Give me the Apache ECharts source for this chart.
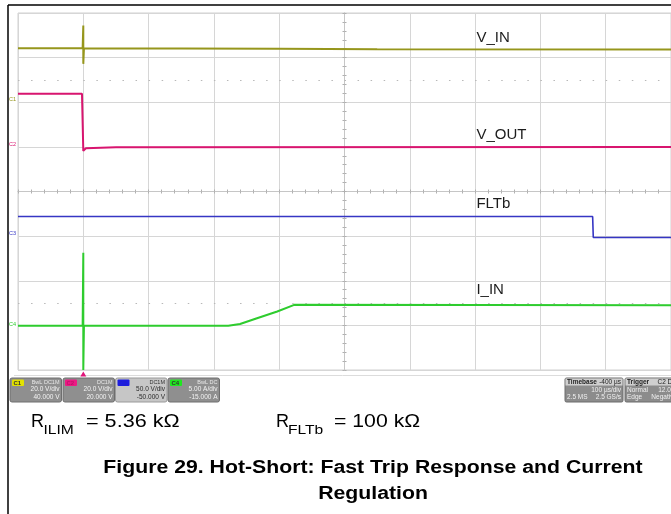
<!DOCTYPE html>
<html>
<head>
<meta charset="utf-8">
<script src="https://cdn.jsdelivr.net/npm/echarts@6/dist/echarts.min.js"></script>
<style>
html,body{margin:0;padding:0;background:#fff;}
#c{width:671px;height:514px;}
</style>
</head>
<body>
<div id="c"></div>
<script>
// Screen coordinates in scope divisions (x: -5..5 = 10 div @ 100 us/div, y: -4..4 = 8 div)
const vinT  = [-5, -4.01, -4.0, -4.0, -3.99, -1.0, 0.5, 5];
const vinV  = [3.21, 3.21, 3.72, 2.86, 3.21, 3.20, 3.185, 3.18];
const voutT = [-5, -4.02, -4.0, -3.96, -3.5, 5];
const voutV = [2.19, 2.19, 0.91, 0.97, 0.99, 1.00];
const fltT  = [-5, 3.80, 3.81, 5];
const fltV  = [-0.56, -0.56, -1.03, -1.03];
const iinT  = [-5, -4.01, -4.0, -4.0, -3.99, -1.78, -1.60, -1.34, -1.03, -0.77, 5];
const iinV  = [-3.01, -3.01, -1.37, -4.0, -3.01, -3.01, -2.97, -2.84, -2.69, -2.54, -2.55];

const traceNames  = ['V_IN', 'V_OUT', 'FLTb', 'I_IN'];
const traceLabelX = [2.02, 2.02, 2.02, 2.02];
const traceLabelY = [3.45, 1.26, -0.27, -2.21];
const chanTags    = ['C1', 'C2', 'C3', 'C4'];
const chanMarkY   = [2.06, 1.05, -0.93, -2.97];
const chanColors  = ['#96961c', '#d8156f', '#3636c4', '#2ecc2e'];
const dottedRows  = [2.5, -2.5];
const triggerT    = -4.0;

const boxLine1 = ['BwL DC1M', 'DC1M', 'DC1M', 'BwL DC'];
const boxLine2 = ['20.0 V/div', '20.0 V/div', '50.0 V/div', '5.00 A/div'];
const boxLine3 = ['40.000 V', '20.000 V', '-50.000 V', '-15.000 A'];
const tbLines  = [['Timebase', '-400 µs'], ['', '100 µs/div'], ['2.5 MS', '2.5 GS/s']];
const trLines  = [['Trigger', 'C2 DC'], ['Normal', '12.0 V'], ['Edge', 'Negative']];

const FF = "'Liberation Sans', Arial, sans-serif";
const zip = (a, b) => a.map((v, i) => [v, b[i]]);
const traces = [zip(vinT, vinV), zip(voutT, voutV), zip(fltT, fltV), zip(iinT, iinV)];

const chart = echarts.init(document.getElementById('c'), null, {renderer: 'canvas'});

const gridCol = '#d6d6d6';
function centerAxis(dim, pos) {
  return {
    type: 'value', min: dim === 'x' ? -5 : -4, max: dim === 'x' ? 5 : 4, interval: 1,
    position: pos,
    axisLine: {show: true, onZero: true, onZeroAxisIndex: 0, lineStyle: {color: '#c6c6c6', width: 1}},
    axisTick: {show: true, length: 2, lineStyle: {color: '#b0b0b0'}},
    minorTick: {show: true, splitNumber: 5, length: 2, lineStyle: {color: '#b0b0b0'}},
    axisLabel: {show: false}, splitLine: {show: false}
  };
}
const baseX = {type: 'value', min: -5, max: 5, interval: 1, axisLine: {show: false}, axisTick: {show: false},
  axisLabel: {show: false}, splitLine: {show: true, lineStyle: {color: gridCol, width: 1}}};
const baseY = {type: 'value', min: -4, max: 4, interval: 1, axisLine: {show: false}, axisTick: {show: false},
  axisLabel: {show: false}, splitLine: {show: true, lineStyle: {color: gridCol, width: 1}}};

const series = traces.map((d, i) => {
  const mp = [
    {coord: [traceLabelX[i], traceLabelY[i]], symbol: 'circle', symbolSize: 0,
      label: {show: true, formatter: traceNames[i], position: 'right', distance: 0,
        fontSize: 15, fontFamily: FF, color: '#1c1c1c'}},
    {coord: [-5, chanMarkY[i]], symbol: 'circle', symbolSize: 0,
      label: {show: true, formatter: chanTags[i], position: 'left', distance: 2,
        fontSize: 5.5, fontFamily: FF, color: chanColors[i]}}
  ];
  if (i === 1) {
    mp.push({coord: [triggerT, -4], symbol: 'triangle', symbolSize: [6, 5], symbolOffset: [0, 4],
      itemStyle: {color: '#e0157a'}, label: {show: false}});
  }
  const s = {
    type: 'line', data: d, showSymbol: false, symbol: 'none', clip: false,
    lineStyle: {color: chanColors[i], width: i === 2 ? 1.6 : 2},
    itemStyle: {color: chanColors[i]},
    silent: true, z: 5,
    markPoint: {silent: true, animation: false, data: mp}
  };
  if (i === 0) {
    s.markLine = {silent: true, symbol: 'none', animation: false, label: {show: false},
      lineStyle: {type: [1.5, 11.56], color: '#b8b8b8', width: 1},
      data: dottedRows.map(v => ({yAxis: v}))};
  }
  return s;
});

// graphic decorations: frame, info boxes, text
const g = [];
g.push({type: 'line', shape: {x1: 8, y1: 5, x2: 671, y2: 5}, style: {stroke: '#000', lineWidth: 1.5}});
g.push({type: 'line', shape: {x1: 8, y1: 5, x2: 8, y2: 514}, style: {stroke: '#000', lineWidth: 1.5}});
g.push({type: 'line', shape: {x1: 14, y1: 375.5, x2: 671, y2: 375.5}, style: {stroke: '#dcdcdc', lineWidth: 1}});

const boxX = [10, 63, 115.5, 168];
const tagCol = ['#e2e200', '#ec1a84', '#1d1de0', '#1ee81e'];
const tagTxt = ['#333', '#c0106a', '#2020d0', '#333'];
for (let i = 0; i < 4; i++) {
  const x = boxX[i], y = 378, w = 51.5, h = 24;
  const light = i === 2;
  g.push({type: 'rect', shape: {x, y, width: w, height: h, r: 2},
    style: {fill: light ? '#c6c6c6' : '#8f8f8f', stroke: light ? '#9a9a9a' : '#6e6e6e', lineWidth: 1}});
  g.push({type: 'rect', shape: {x: x + 2, y: y + 1.5, width: 12, height: 6.5, r: 1},
    style: {fill: tagCol[i]}});
  g.push({type: 'text', x: x + 3.5, y: y + 5, style: {text: chanTags[i], fontSize: 6, fontWeight: 'bold', fontFamily: FF,
    fill: tagTxt[i], verticalAlign: 'middle', textVerticalAlign: 'middle'}});
  const tc = light ? '#2a2a2a' : '#f2f2f2';
  [boxLine1[i], boxLine2[i], boxLine3[i]].forEach((t, k) => {
    g.push({type: 'text', x: x + w - 2, y: y + [4, 11.5, 19][k],
      style: {text: t, fontSize: k === 0 ? 5.5 : 6.5, fontFamily: FF, fill: k === 0 ? (light ? '#333' : '#e8e8e8') : tc,
        align: 'right', textAlign: 'right', verticalAlign: 'middle', textVerticalAlign: 'middle'}});
  });
}
function infoBox(x, w, lines) {
  g.push({type: 'rect', shape: {x, y: 378, width: w, height: 24, r: 1.5},
    style: {fill: '#8c8c8c', stroke: '#6c6c6c', lineWidth: 1}});
  g.push({type: 'rect', shape: {x: x + 0.5, y: 378.5, width: w - 1, height: 7},
    style: {fill: '#cfcfcf'}});
  lines.forEach((ln, k) => {
    const yy = 378 + [3.8, 11.8, 19.3][k];
    const col = k === 0 ? '#222' : '#f0f0f0';
    if (ln[0]) g.push({type: 'text', x: x + 2, y: yy, style: {text: ln[0], fontSize: 6.5, fontWeight: k === 0 ? 'bold' : 'normal',
      fontFamily: FF, fill: col, verticalAlign: 'middle', textVerticalAlign: 'middle'}});
    if (ln[1]) g.push({type: 'text', x: x + w - 2, y: yy, style: {text: ln[1], fontSize: 6.5, fontFamily: FF, fill: col,
      align: 'right', textAlign: 'right', verticalAlign: 'middle', textVerticalAlign: 'middle'}});
  });
}
infoBox(565, 58, tbLines);
infoBox(625, 54, trLines);

function txt(x, y, text, size, opts) {
  opts = opts || {};
  g.push({type: 'text', x, y, scaleX: opts.sx || 1,
    style: {text, fontSize: size, fontFamily: FF, fontWeight: opts.bold ? 'bold' : 'normal', fill: '#000',
      align: opts.align || 'left', textAlign: opts.align || 'left',
      verticalAlign: 'middle', textVerticalAlign: 'middle'}});
}
// R_ILIM = 5.36 kΩ
txt(31, 422, 'R', 18);
txt(43.5, 430.5, 'ILIM', 13, {sx: 1.2});
txt(86, 422, '= 5.36 kΩ', 18, {sx: 1.2});
// R_FLTb = 100 kΩ
txt(276, 422, 'R', 18);
txt(288, 430.5, 'FLTb', 13, {sx: 1.2});
txt(334, 422, '= 100 kΩ', 18, {sx: 1.18});
// Caption
txt(373, 468.5, 'Figure 29. Hot-Short: Fast Trip Response and Current', 18, {bold: true, align: 'center', sx: 1.18});
txt(373, 494.5, 'Regulation', 18, {bold: true, align: 'center', sx: 1.18});

chart.setOption({
  animation: false,
  backgroundColor: '#ffffff',
  grid: {left: 18, top: 13, width: 653, height: 357, show: true, borderColor: '#d0d0d0', borderWidth: 1,
    backgroundColor: 'transparent'},
  xAxis: [baseX, centerAxis('x', 'bottom'), centerAxis('x', 'top')],
  yAxis: [baseY, centerAxis('y', 'left'), centerAxis('y', 'right')],
  series: series,
  graphic: g
});
</script>
</body>
</html>
